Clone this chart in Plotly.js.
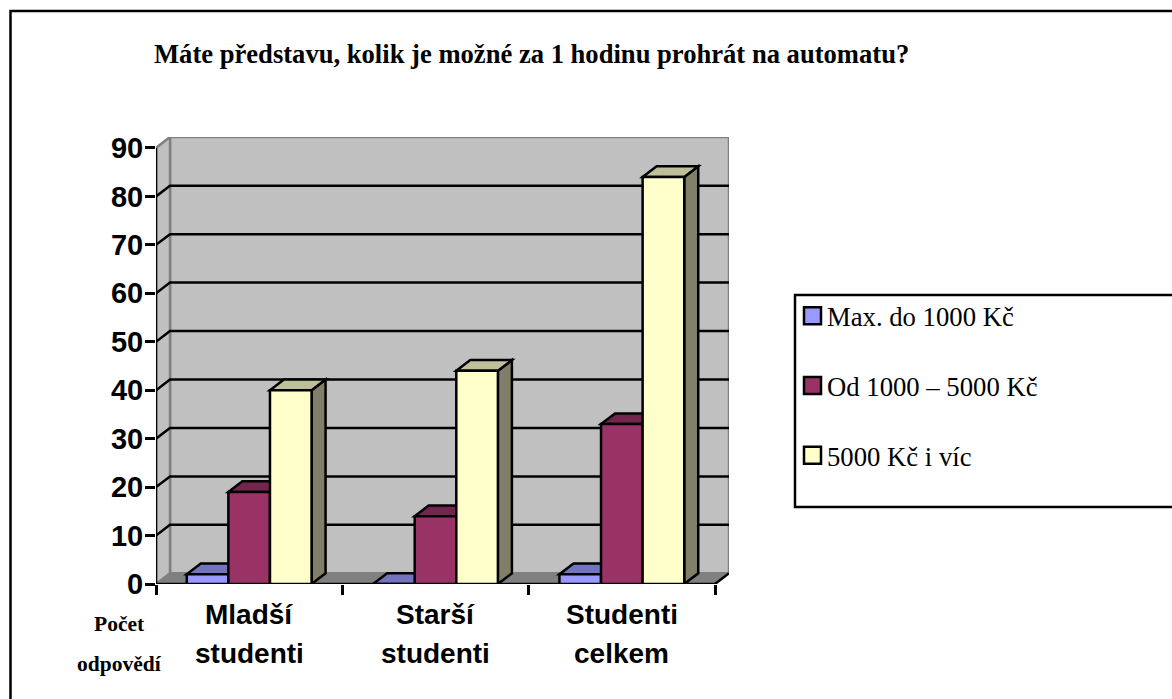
<!DOCTYPE html>
<html><head><meta charset="utf-8">
<script src="https://cdn.plot.ly/plotly-3.0.1.min.js"></script>
<style>html,body{margin:0;padding:0;background:#fff}#c{width:1172px;height:699px}</style>
</head><body><div id="c"></div>
<script>
const categories = ["Mladší studenti", "Starší studenti", "Studenti celkem"];
const seriesNames = ["Max. do 1000 Kč", "Od 1000 – 5000 Kč", "5000 Kč i víc"];
const maxDo1000 = [2, 0, 2];
const od1000do5000 = [19, 14, 33];
const od5000 = [40, 44, 84];
const yTicks = [0,10,20,30,40,50,60,70,80,90];
const frontColors = ["#9999FF", "#993366", "#FFFFCC"];
const topColors = ["#7373BF", "#73264D", "#BFBF99"];
const sideColors = ["#60608F", "#5C1F3D", "#80806A"];

const W=1172,H=699, L=156,R=729,T=137,B=584;
const catPx=(715-156)/3, unitPx=4.845;
const dx=14/catPx, dy=10.7/unitPx;
const barW=41.6/catPx;
const xMin=-0.5, xMax=2.5+dx, yMax=(B-T)/unitPx;
const px=v=>(v-L)/(R-L), py=v=>(B-v)/(B-T);
const LW=2.5;

const series=[maxDo1000,od1000do5000,od5000];
const shapes=[];
const poly=(pts,fill,lc,lw,layer)=>shapes.push({type:'path',xref:'x',yref:'y',layer:layer||'between',
  path:'M'+pts.map(p=>p[0]+','+p[1]).join('L')+(fill?'Z':''),
  fillcolor:fill||'rgba(0,0,0,0)',line:{color:lc,width:lw}});
poly([[xMin+dx,dy],[xMax,dy],[xMax,yMax],[xMin+dx,yMax]],'#C0C0C0','#808080',LW);
poly([[xMin,0],[xMin+dx,dy],[xMin+dx,yMax],[xMin,90]],'#C0C0C0','#808080',LW);
poly([[xMin,0],[2.5,0],[xMax,dy],[xMin+dx,dy]],'#808080','#808080',1);
yTicks.slice(1,-1).forEach(v=>poly([[xMin,v],[xMin+dx,v+dy],[xMax,v+dy]],null,'#000',LW));
poly([[xMin,90],[xMin,0],[2.5,0]],null,'#000',LW);
poly([[2.5,0],[xMax,dy]],null,'#000',LW);
series.forEach((vals,s)=>vals.forEach((v,c)=>{
  const x0=c+(s-1.5)*barW, x1=x0+barW;
  poly([[x1,0],[x1+dx,dy],[x1+dx,v+dy],[x1,v]],sideColors[s],'#000',LW);
  poly([[x0,v],[x1,v],[x1+dx,v+dy],[x0+dx,v+dy]],topColors[s],'#000',LW);
}));
const idx=categories.map((_,i)=>i);
const traces=series.map((vals,s)=>({
  type:'bar',name:seriesNames[s],x:idx,y:vals,width:barW,offset:(s-1.5)*barW,
  legendgroup:'g'+s,
  marker:{color:frontColors[s],line:{color:'#000',width:LW}},hoverinfo:'y+name',cliponaxis:false
}));
// page frame: left and top edges only, and the legend box open to the right
shapes.push({type:'path',xref:'paper',yref:'paper',layer:'below',
  path:`M${px(10.5)},${py(699)}L${px(10.5)},${py(11)}L${px(1172)},${py(11)}`,line:{color:'#000',width:LW}});
shapes.push({type:'rect',xref:'paper',yref:'paper',layer:'below',x0:px(795),x1:px(1176),y0:py(507),y1:py(295),line:{color:'#000',width:LW},fillcolor:'#fff'});

const annotations=[];
categories.forEach((c,i)=>c.split(' ').forEach((w,j)=>annotations.push({
  text:w,x:i,xref:'x',y:py(614+j*39),yref:'paper',showarrow:false,xanchor:'center',yanchor:'middle',
  font:{family:'"Liberation Sans",Arial,sans-serif',size:28,color:'#000',weight:700}})));
["Počet","odpovědí"].forEach((w,j)=>annotations.push({
  text:'<b>'+w+'</b>',x:px(119),xref:'paper',y:py(624+j*40),yref:'paper',showarrow:false,xanchor:'center',yanchor:'middle',
  font:{family:'"Liberation Serif","Times New Roman",serif',size:21.5,color:'#000'}}));

const layout={
  width:W,height:H,margin:{l:L,r:W-R,t:T,b:H-B,pad:0},
  paper_bgcolor:'#fff',plot_bgcolor:'rgba(0,0,0,0)',
  barmode:'overlay',showlegend:true,
  title:{text:'<b>Máte představu, kolik je možné za 1 hodinu prohrát na automatu?</b>',
    x:154/W,xanchor:'left',xref:'container',y:1-54/H,yanchor:'middle',yref:'container',
    font:{family:'"Liberation Serif","Times New Roman",serif',size:26.6,color:'#000'}},
  xaxis:{range:[xMin,xMax],tickvals:idx,ticktext:categories,showticklabels:false,ticks:'',
    showgrid:false,zeroline:false,showline:false,
    minor:{tickvals:[-0.5,0.5,1.5,2.5],ticks:'outside',ticklen:10,tickwidth:LW,tickcolor:'#000',showgrid:false}},
  yaxis:{range:[0,yMax],tickvals:yTicks,ticks:'outside',ticklen:10,tickwidth:LW,tickcolor:'#000',
    showgrid:false,zeroline:false,showline:false,ticklabelstandoff:-4,
    tickfont:{family:'"Liberation Sans",Arial,sans-serif',size:29,color:'#000',weight:700}},
  legend:{x:px(787),xanchor:'left',y:py(292),yanchor:'top',bgcolor:'rgba(0,0,0,0)',borderwidth:0,
    traceorder:'grouped',tracegroupgap:32,
    font:{family:'"Liberation Serif","Times New Roman",serif',size:26.7,color:'#000'}},
  shapes,annotations
};
Plotly.newPlot('c',traces,layout,{displayModeBar:false,responsive:false}).then(gd=>{
  // legend swatches in the source are larger squares, nearer the text
  gd.querySelectorAll('.legend .legendpoints path').forEach(p=>{
    p.setAttribute('d','M14,8.5H-3V-8.5H14Z');
    p.style.strokeWidth='2.5px';
  });
});
</script></body></html>
